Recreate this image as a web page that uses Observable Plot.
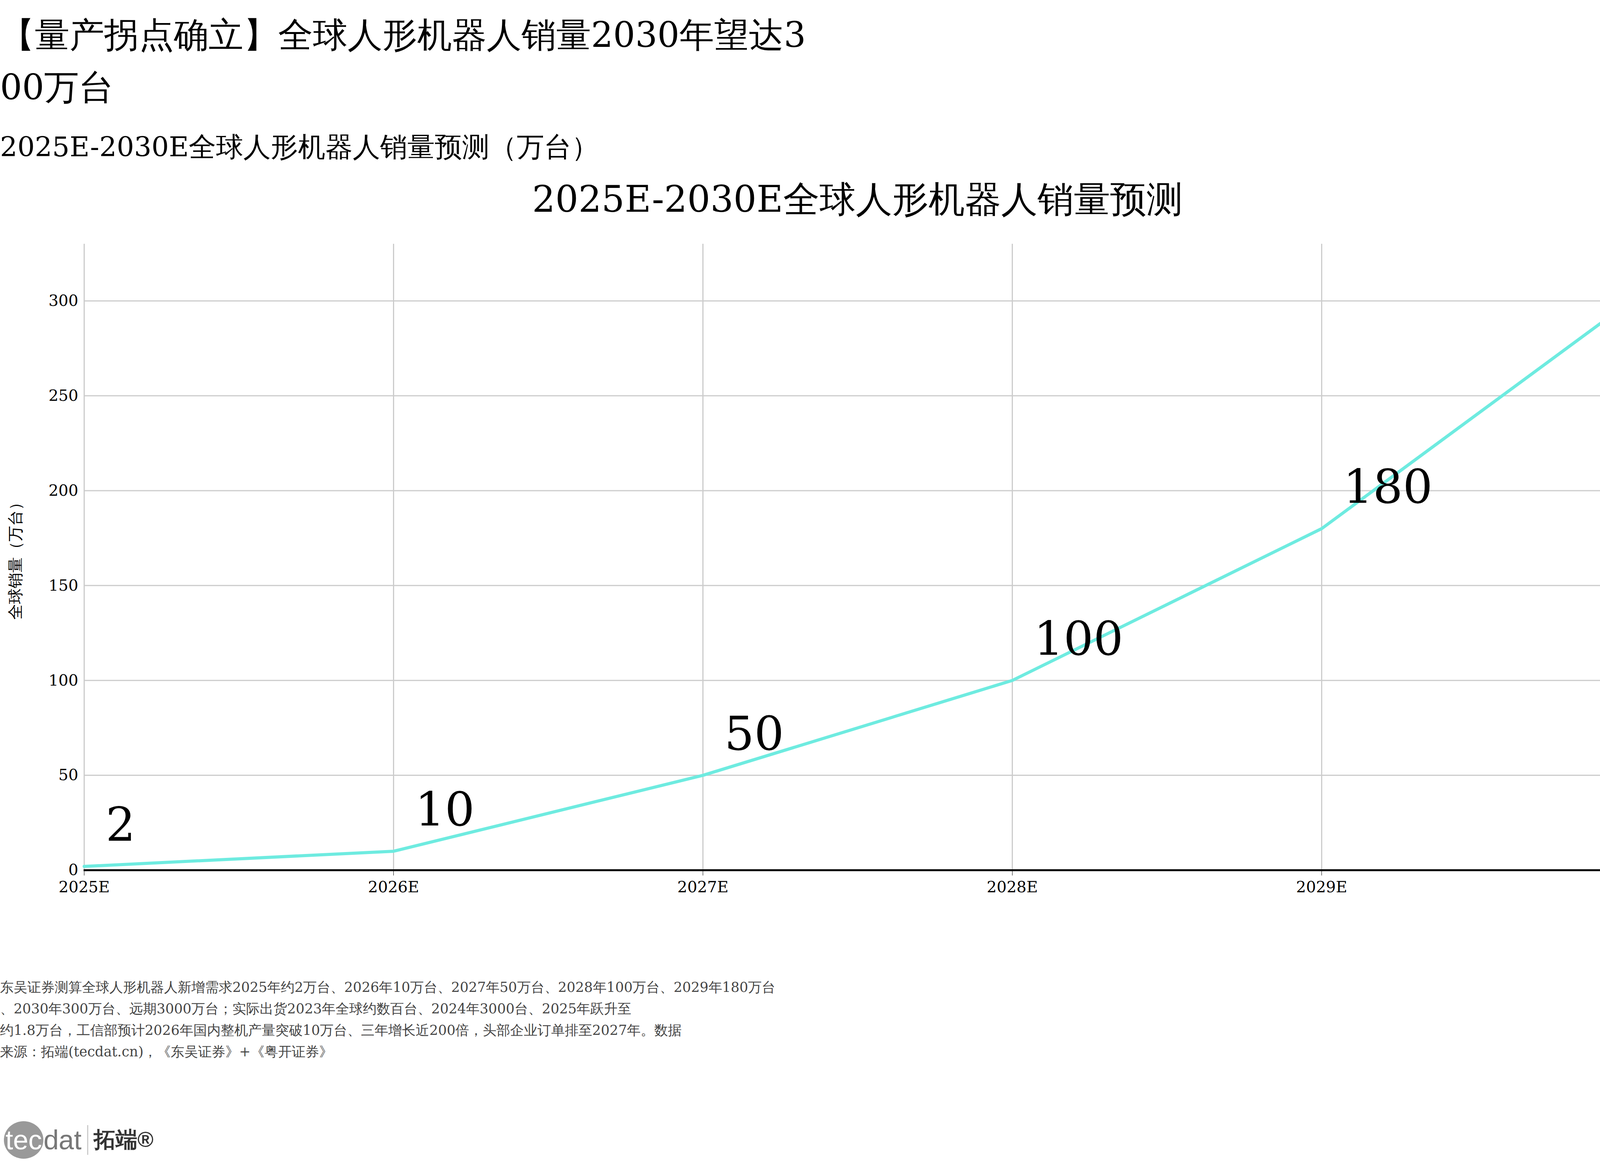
<!DOCTYPE html>
<html><head><meta charset="utf-8">
<script src="https://cdn.jsdelivr.net/npm/d3@7"></script>
<script src="https://cdn.jsdelivr.net/npm/@observablehq/plot@0.6"></script>
<style>
body{margin:0;background:#fff;font-family:"DejaVu Serif",serif;color:#000;width:4200px;height:3000px;position:relative;overflow:hidden}
.t{position:absolute;left:0;white-space:nowrap}
#title{top:22px;font-size:89px;line-height:134px}
#sub{top:330px;font-size:70px}
#ctitle{top:448px;left:0;width:4390px;text-align:center;font-size:93px}
#chart{position:absolute;left:0;top:600px}
#foot{top:2500px;font-size:35px;line-height:55px;color:#444}
#logo{top:2870px;left:10px;font-family:"Liberation Sans",sans-serif;font-size:70px;color:#777;display:flex;align-items:center}
</style></head><body>
<div class="t" id="title">【量产拐点确立】全球人形机器人销量2030年望达3<br>00万台</div>
<div class="t" id="sub">2025E-2030E全球人形机器人销量预测（万台）</div>
<div class="t" id="ctitle">2025E-2030E全球人形机器人销量预测</div>
<div id="chart"></div>
<div class="t" id="foot">东吴证券测算全球人形机器人新增需求2025年约2万台、2026年10万台、2027年50万台、2028年100万台、2029年180万台<br>、2030年300万台、远期3000万台；实际出货2023年全球约数百台、2024年3000台、2025年跃升至<br>约1.8万台，工信部预计2026年国内整机产量突破10万台、三年增长近200倍，头部企业订单排至2027年。数据<br>来源：拓端(tecdat.cn)，《东吴证券》+《粤开证券》</div>
<div class="t" id="logo"><span style="background:#999;color:#fff;border-radius:50%;padding:8px 4px">tec</span><span>dat</span><span style="border-left:3px solid #ccc;margin-left:14px;padding-left:14px;color:#333;font-weight:bold;font-size:56px">拓端®</span></div>
<script>
const years = ["2025E","2026E","2027E","2028E","2029E","2030E"];
const sales = [2,10,50,100,180,300];
const yTicks = [0,50,100,150,200,250,300];
const data = years.map((y,i)=>({year:y, v:sales[i]}));
const svg = Plot.plot({
  width:4200, height:1717,
  marginLeft:214, marginRight:25, marginTop:24, marginBottom:90,
  style:{fontFamily:"'DejaVu Serif',serif", fontSize:"40px", background:"#fff"},
  x:{type:"point", domain:years, padding:0, label:null, tickSize:14, tickPadding:14},
  y:{domain:[0,330], ticks:yTicks, label:"全球销量（万台）", labelArrow:"none", labelAnchor:"center", labelOffset:190, tickSize:0, tickPadding:14},
  marks:[
    Plot.gridX(years,{stroke:"#ccc", strokeOpacity:1, strokeWidth:3}),
    Plot.gridY(yTicks,{stroke:"#ccc", strokeOpacity:1, strokeWidth:3}),
    Plot.ruleY([0],{stroke:"#000", strokeWidth:5}),
    Plot.line(data,{x:"year", y:"v", stroke:"#6eebe0", strokeWidth:8}),
    Plot.text(data.slice(0,5),{x:"year", y:"v", text:d=>String(d.v), textAnchor:"start", lineAnchor:"bottom", dx:55, dy:-66, fontSize:120, fill:"#000"})
  ]
});
document.getElementById("chart").append(svg);
</script>
</body></html>
